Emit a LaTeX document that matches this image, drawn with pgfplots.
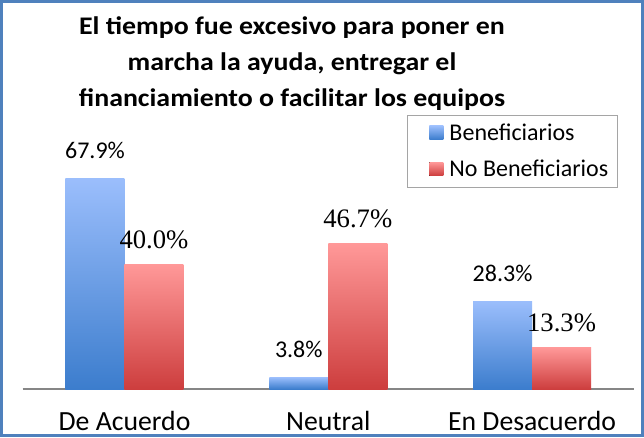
\documentclass[border=0pt]{standalone}
\usepackage{fontspec}
\setmainfont{Carlito}
\newfontfamily\numserif{Liberation Serif}
\usepackage{graphicx}
\usepackage{pgfplots}
\pgfplotsset{compat=1.18}
\definecolor{frameblue}{RGB}{79,129,189}
\definecolor{bluetop}{RGB}{155,190,252}
\definecolor{bluebot}{RGB}{60,125,205}
\definecolor{redtop}{RGB}{255,152,152}
\definecolor{redbot}{RGB}{205,62,62}
\definecolor{axisgray}{RGB}{134,134,134}
\definecolor{legendgray}{RGB}{165,165,165}

\newcommand\titleline[1]{\scalebox{1.1}[1]{#1}}

% one bar per \addplot so that each bar gets its own gradient
\pgfplotsset{
  benef/.style={draw=none, top color=bluetop, bottom color=bluebot, bar shift=-22.125pt,
    legend image code/.code={\path (0pt,0pt) rectangle (25pt,0pt);
      \fill[top color=bluetop, bottom color=bluebot] (12pt,-4.5pt) rectangle (22.5pt,5.5pt);},
    every node near coord/.append style={font=\fontsize{18}{20}\selectfont, anchor=base, yshift=14.8pt, inner sep=0pt}},
  nobenef/.style={draw=none, top color=redtop, bottom color=redbot, bar shift=22.125pt,
    legend image code/.code={\path (0pt,0pt) rectangle (25pt,0pt);
      \fill[top color=redtop, bottom color=redbot] (12pt,-4.5pt) rectangle (22.5pt,5.5pt);},
    every node near coord/.append style={font=\numserif\fontsize{20}{22}\selectfont, anchor=base, yshift=12.3pt, inner sep=0pt}},
}

\begin{document}
\begin{tikzpicture}[x=0.75pt,y=0.75pt]
\useasboundingbox (0,0) rectangle (644,437);
\fill[white] (0,0) rectangle (644,437);

% title, one node per line
\begin{scope}[every node/.style={anchor=base, font=\bfseries\fontsize{19}{22}\selectfont, inner sep=0pt}]
\node at (292,403) {\titleline{El tiempo fue excesivo para poner en}};
\node at (292,367) {\titleline{marcha la ayuda, entregar el}};
\node at (292,331) {\titleline{financiamiento o facilitar los equipos}};
\end{scope}

\begin{axis}[
    at={(16.95pt,36pt)}, anchor=south west,
    scale only axis, width=458.55pt, height=186.45pt,
    xmin=-0.5, xmax=2.5, ymin=0, ymax=80,
    ybar=0pt, bar width=44.25pt,
    clip=false,
    axis x line*=bottom, axis y line=none,
    x axis line style={draw=axisgray, line width=1.5pt},
    xtick={0,1,2}, xticklabels={De Acuerdo,Neutral,En Desacuerdo},
    major tick length=0pt,
    xticklabel style={font=\fontsize{20.8}{24}\selectfont, anchor=base, yshift=-31pt},
    legend style={at={(0.628,1.102)}, anchor=north west, draw=legendgray,
      font=\fontsize{18}{20}\selectfont, inner xsep=5pt, inner ysep=4.5pt,
      row sep=9.25pt},
    legend cell align=left,
    /pgf/number format/.cd, fixed, fixed zerofill, precision=1, assume math mode=true,
    /pgfplots/.cd,
    nodes near coords={\pgfmathprintnumber{\pgfplotspointmeta}\%},
]
\addplot[benef] coordinates {(0,67.9)};
\addlegendentry{Beneficiarios}
\addplot[nobenef] coordinates {(0,40.0)};
\addlegendentry{No Beneficiarios}
\addplot[benef, forget plot] coordinates {(1,3.8)};
\addplot[benef, forget plot] coordinates {(2,28.3)};
\addplot[nobenef, forget plot] coordinates {(1,46.7)};
\addplot[nobenef, forget plot] coordinates {(2,13.3)};
\end{axis}

\draw[frameblue, line width=2.25pt] (1.5,1.5) rectangle (642.5,435.5);
\end{tikzpicture}
\end{document}
